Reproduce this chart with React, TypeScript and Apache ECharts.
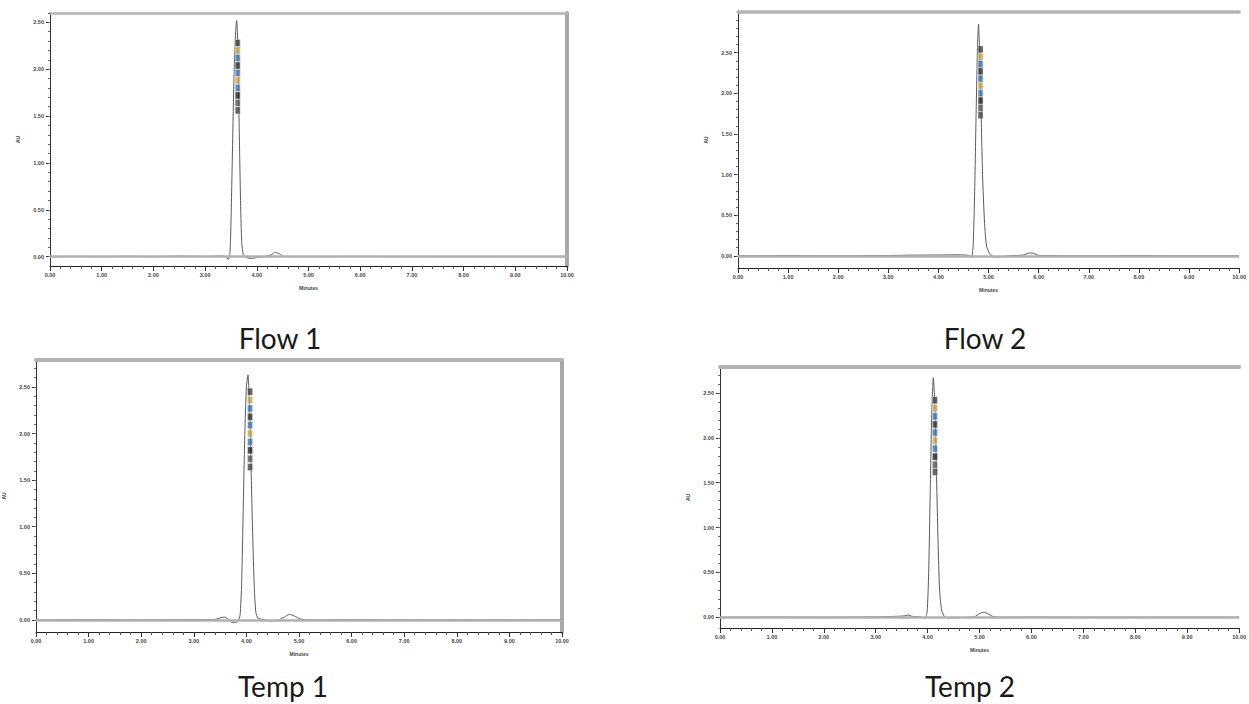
import React, { useEffect, useRef } from "react";
import * as echarts from "echarts";

// ---- data (time in minutes, response in AU) ----
const xTickLabels = [0, 1, 2, 3, 4, 5, 6, 7, 8, 9, 10];
const yTickLabels = [0, 0.5, 1.0, 1.5, 2.0, 2.5];
const panelTitles = ["Flow 1", "Flow 2", "Temp 1", "Temp 2"];

const flow1Signal: number[][] = [
  [0.0, 0.0], [0.5, 0.002], [1.0, 0.0], [1.5, 0.003], [2.0, 0.0], [2.5, 0.004], [3.0, 0.002],
  [3.3, 0.005], [3.4, 0.0], [3.45, -0.03], [3.48, 0.04], [3.5, 0.35], [3.53, 1.15], [3.56, 1.95],
  [3.59, 2.4], [3.61, 2.52], [3.63, 2.3], [3.65, 1.7], [3.67, 1.05], [3.69, 0.48], [3.71, 0.14],
  [3.74, 0.02], [3.8, -0.01], [3.9, -0.02], [4.0, -0.01], [4.15, 0.0], [4.28, 0.02], [4.36, 0.045],
  [4.44, 0.03], [4.52, 0.002], [5.0, 0.0], [6.0, 0.002], [7.0, 0.0], [8.0, 0.001], [9.0, 0.0], [10.0, 0.0],
];
const flow2Signal: number[][] = [
  [0.0, 0.0], [1.0, 0.002], [2.0, 0.0], [3.0, 0.004], [3.5, 0.008], [4.0, 0.01], [4.4, 0.012],
  [4.6, 0.005], [4.66, -0.02], [4.69, 0.1], [4.72, 0.7], [4.75, 1.7], [4.78, 2.6], [4.8, 2.85],
  [4.82, 2.55], [4.85, 1.8], [4.88, 1.0], [4.92, 0.4], [4.96, 0.12], [5.02, 0.03], [5.1, -0.01],
  [5.2, -0.015], [5.4, 0.0], [5.7, 0.01], [5.82, 0.035], [5.9, 0.03], [6.0, 0.005], [7.0, 0.0],
  [8.0, 0.002], [9.0, 0.0], [10.0, 0.0],
];
const temp1Signal: number[][] = [
  [0.0, 0.0], [1.0, 0.002], [2.0, 0.0], [3.0, 0.003], [3.4, 0.005], [3.52, 0.025], [3.58, 0.03],
  [3.65, 0.01], [3.72, -0.025], [3.78, -0.03], [3.84, -0.01], [3.88, 0.05], [3.91, 0.4], [3.94, 1.2],
  [3.97, 2.0], [4.0, 2.5], [4.03, 2.63], [4.06, 2.3], [4.09, 1.6], [4.12, 0.9], [4.15, 0.35],
  [4.18, 0.08], [4.22, 0.02], [4.3, 0.005], [4.45, -0.01], [4.6, -0.005], [4.72, 0.03], [4.82, 0.06],
  [4.92, 0.04], [5.02, 0.01], [5.2, 0.0], [6.0, 0.002], [7.0, 0.0], [8.0, 0.001], [9.0, 0.0], [10.0, 0.0],
];
const temp2Signal: number[][] = [
  [0.0, 0.0], [1.0, 0.002], [2.0, 0.0], [3.0, 0.004], [3.4, 0.01], [3.55, 0.015], [3.62, 0.025],
  [3.7, 0.01], [3.85, 0.005], [3.95, -0.01], [3.99, 0.06], [4.02, 0.5], [4.05, 1.4], [4.08, 2.3],
  [4.11, 2.67], [4.14, 2.35], [4.17, 1.6], [4.2, 0.85], [4.23, 0.3], [4.27, 0.08], [4.32, 0.01],
  [4.4, -0.01], [4.55, -0.005], [4.9, 0.005], [5.0, 0.04], [5.08, 0.055], [5.16, 0.04], [5.25, 0.01],
  [5.4, 0.0], [6.0, 0.002], [7.0, 0.0], [8.0, 0.0], [9.0, 0.001], [10.0, 0.0],
];

// stacked peak annotation boxes (retention time, heights)
const flow1LabelTime = 3.63;
const flow1LabelHeights = [2.28, 2.2, 2.12, 2.04, 1.96, 1.88, 1.8, 1.72, 1.64, 1.56];
const flow2LabelTime = 4.84;
const flow2LabelHeights = [2.54, 2.45, 2.36, 2.27, 2.18, 2.09, 2.0, 1.91, 1.82, 1.73];
const temp1LabelTime = 4.07;
const temp1LabelHeights = [2.45, 2.36, 2.27, 2.18, 2.09, 2.0, 1.91, 1.82, 1.73, 1.64];
const temp2LabelTime = 4.14;
const temp2LabelHeights = [2.42, 2.33, 2.24, 2.15, 2.06, 1.97, 1.88, 1.79, 1.7, 1.62];
const labelBoxColors = ["#3a3a3a", "#c9a24a", "#3f73ad", "#2f2f2f", "#3f73ad", "#c9a24a", "#3f73ad", "#222222", "#555555", "#444444"];

const panels = [
  { title: panelTitles[0], signal: flow1Signal, lt: flow1LabelTime, lh: flow1LabelHeights,
    left: 50, top: 13, width: 517, height: 253, yMin: -0.1, yMax: 2.6, rightBorder: true, topW: 2.5,
    tx: 280, ty: 338 },
  { title: panelTitles[1], signal: flow2Signal, lt: flow2LabelTime, lh: flow2LabelHeights,
    left: 738, top: 12, width: 507, height: 256, yMin: -0.15, yMax: 3.0, rightBorder: false, topW: 3.5,
    tx: 985, ty: 338 },
  { title: panelTitles[2], signal: temp1Signal, lt: temp1LabelTime, lh: temp1LabelHeights,
    left: 35, top: 360, width: 527, height: 272, yMin: -0.13, yMax: 2.79, rightBorder: true, topW: 4,
    tx: 283, ty: 686 },
  { title: panelTitles[3], signal: temp2Signal, lt: temp2LabelTime, lh: temp2LabelHeights,
    left: 720, top: 367, width: 525, height: 261, yMin: -0.12, yMax: 2.79, rightBorder: false, topW: 4,
    tx: 970, ty: 686 },
];

const yMinorTicks: number[] = [];
for (let i = 0; i <= 29; i++) yMinorTicks.push(Math.round(i * 10) / 100);

export default function App() {
  const ref = useRef<HTMLDivElement>(null);
  useEffect(() => {
    if (!ref.current) return;
    const chart = echarts.init(ref.current, null, { renderer: "svg" });
    const grid: any[] = [];
    const xAxis: any[] = [];
    const yAxis: any[] = [];
    const series: any[] = [];
    const graphic: any[] = [];
    const labelFont = { fontSize: 5.5, color: "#444", fontWeight: "bold" as const, fontFamily: "Arial, Liberation Sans, sans-serif" };

    panels.forEach((p, i) => {
      grid.push({ left: p.left, top: p.top, width: p.width, height: p.height, containLabel: false });
      const xMain = xAxis.length;
      xAxis.push({
        type: "value", gridIndex: i, min: 0, max: 10, interval: 1, position: "bottom",
        name: "Minutes", nameLocation: "middle", nameGap: 19,
        nameTextStyle: { ...labelFont, fontSize: 5 },
        axisLine: { show: true, onZero: false, lineStyle: { color: "#222", width: 1 } },
        axisTick: { show: true, length: 5, lineStyle: { color: "#333" } },
        minorTick: { show: true, splitNumber: 5, length: 3, lineStyle: { color: "#555" } },
        axisLabel: { ...labelFont, margin: 6, formatter: (v: number) => v.toFixed(2),
          customValues: xTickLabels },
        splitLine: { show: false },
      });
      xAxis.push({
        type: "value", gridIndex: i, min: 0, max: 10, position: "top",
        axisLine: { show: true, onZero: false, lineStyle: { color: "#b4b4b4", width: p.topW } },
        axisTick: { show: false }, axisLabel: { show: false }, splitLine: { show: false },
      });
      const yMain = yAxis.length;
      yAxis.push({
        type: "value", gridIndex: i, min: p.yMin, max: p.yMax, position: "left",
        name: "AU", nameLocation: "middle", nameGap: 30, nameRotate: 90,
        nameTextStyle: { ...labelFont, fontSize: 5 },
        axisLine: { show: true, onZero: false, lineStyle: { color: "#333", width: 1 } },
        axisTick: { show: true, length: 4, customValues: yTickLabels, lineStyle: { color: "#333" } },
        axisLabel: { ...labelFont, margin: 6, customValues: yTickLabels, formatter: (v: number) => v.toFixed(2) },
        splitLine: { show: false },
      });
      yAxis.push({
        type: "value", gridIndex: i, min: p.yMin, max: p.yMax, position: "left",
        axisLine: { show: false },
        axisTick: { show: true, length: 2, customValues: yMinorTicks, lineStyle: { color: "#666" } },
        axisLabel: { show: false }, splitLine: { show: false },
      });
      if (p.rightBorder) {
        yAxis.push({
          type: "value", gridIndex: i, min: p.yMin, max: p.yMax, position: "right",
          axisLine: { show: true, onZero: false, lineStyle: { color: "#a8a8a8", width: 4 } },
          axisTick: { show: false }, axisLabel: { show: false }, splitLine: { show: false },
        });
      }
      series.push({
        type: "line", name: p.title, xAxisIndex: xMain, yAxisIndex: yMain,
        data: p.signal, symbol: "none", smooth: 0.2,
        lineStyle: { color: "#5a5a5a", width: 1 },
        z: 3,
        markLine: {
          silent: true, symbol: "none", label: { show: false },
          lineStyle: { color: "#b0b0b0", width: 2.5, type: "solid" },
          data: [[{ coord: [0, 0] }, { coord: [10, 0] }]],
        },
      });
      series.push({
        type: "scatter", xAxisIndex: xMain, yAxisIndex: yMain, symbol: "rect", symbolSize: [5, 7],
        z: 4,
        data: p.lh.map((h, k) => ({
          value: [p.lt, h],
          itemStyle: { color: labelBoxColors[k % labelBoxColors.length], borderColor: "#eee", borderWidth: 0.5, opacity: 0.8 },
        })),
      });
      graphic.push({
        type: "text", x: p.tx, y: p.ty,
        style: {
          text: p.title, fill: "#1a1a1a", fontSize: 28, fontFamily: "Lato, 'Open Sans', sans-serif",
          align: "center", verticalAlign: "middle", textAlign: "center", textVerticalAlign: "middle",
        },
      });
    });

    chart.setOption({
      animation: false,
      backgroundColor: "#ffffff",
      grid, xAxis, yAxis, series, graphic,
    });
    return () => chart.dispose();
  }, []);
  return (
    <div ref={ref} style={{ position: "fixed", left: 0, top: 0, width: 1249, height: 704, background: "#fff" }} />
  );
}
